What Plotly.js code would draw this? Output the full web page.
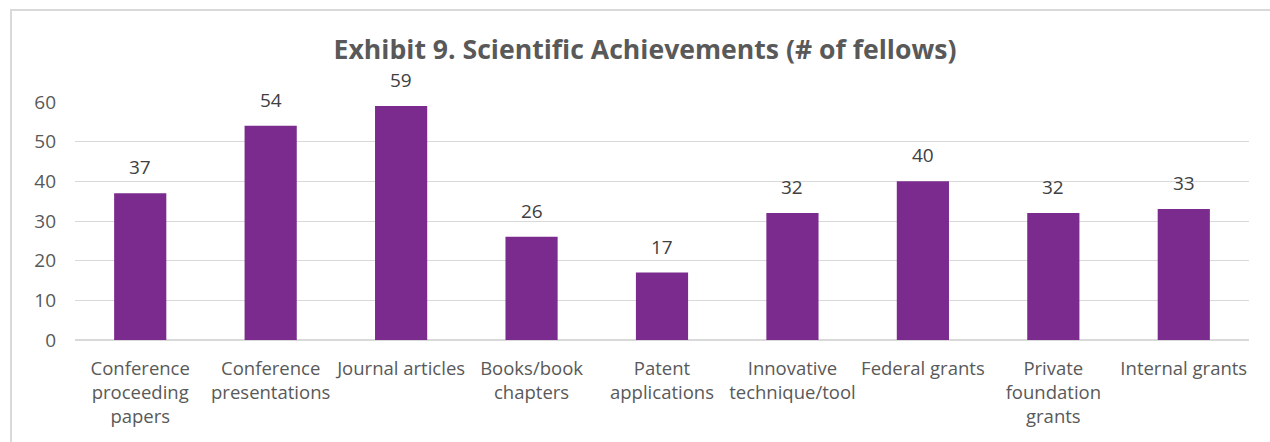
<!DOCTYPE html>
<html>
<head>
<meta charset="utf-8">
<script src="https://cdn.plot.ly/plotly-3.0.1.min.js"></script>
<style>
  html, body { margin: 0; padding: 0; background: #ffffff; }
  #wrap { position: relative; width: 1270px; height: 442px; overflow: hidden; }
  #chart { position: absolute; left: 0; top: 0; width: 1270px; height: 442px; }
  #frame { position: absolute; left: 10px; top: 9px; width: 1300px; height: 500px;
           border-left: 2px solid #d9d9d9; border-top: 2px solid #d9d9d9; pointer-events: none; }
</style>
</head>
<body>
<div id="wrap">
  <div id="chart"></div>
  <div id="frame"></div>
</div>
<script>
const categories = [
  "Conference<br>proceeding<br>papers",
  "Conference<br>presentations",
  "Journal articles",
  "Books/book<br>chapters",
  "Patent<br>applications",
  "Innovative<br>technique/tool",
  "Federal grants",
  "Private<br>foundation<br>grants",
  "Internal grants"
];
const fellows = [37, 54, 59, 26, 17, 32, 40, 32, 33];
const yTicks = [0, 10, 20, 30, 40, 50, 60];
const titleText = "Exhibit 9. Scientific Achievements (# of fellows)";

const FONT = "'Open Sans', 'Noto Sans', sans-serif";

const trace = {
  type: 'bar',
  x: categories,
  y: fellows,
  marker: { color: '#7B2A8E' },
  hoverinfo: 'skip'
};

const annotations = categories.map((c, i) => ({
  x: c, y: fellows[i], xref: 'x', yref: 'y',
  text: String(fellows[i]),
  showarrow: false,
  yanchor: 'bottom',
  yshift: 11,
  font: { family: FONT, size: 19, color: '#404040' }
}));

const layout = {
  width: 1270, height: 442,
  margin: { l: 75, r: 21, t: 102, b: 102, pad: 0 },
  paper_bgcolor: 'rgba(0,0,0,0)',
  plot_bgcolor: 'rgba(0,0,0,0)',
  showlegend: false,
  bargap: 0.6,
  title: {
    text: '<b>' + titleText + '</b>',
    x: 645 / 1270, xanchor: 'center', xref: 'container',
    y: 1 - 50 / 442, yanchor: 'middle', yref: 'container',
    font: { family: FONT, size: 26.6, color: '#595959' }
  },
  xaxis: {
    type: 'category',
    showgrid: false,
    showline: false,
    zeroline: false,
    ticks: '',
    ticklabelstandoff: 15,
    tickfont: { family: FONT, size: 18.5, color: '#595959' },
    fixedrange: true
  },
  yaxis: {
    range: [0, 60],
    tickvals: yTicks,
    ticktext: yTicks.map(String),
    showgrid: true,
    gridcolor: '#d9d9d9',
    gridwidth: 1,
    zeroline: true,
    zerolinecolor: '#d9d9d9',
    zerolinewidth: 2,
    showline: false,
    ticks: '',
    ticklabelstandoff: 18,
    tickfont: { family: FONT, size: 19, color: '#595959' },
    fixedrange: true
  },
  annotations: annotations
};

Plotly.newPlot('chart', [trace], layout, { displayModeBar: false, staticPlot: true });
</script>
</body>
</html>
